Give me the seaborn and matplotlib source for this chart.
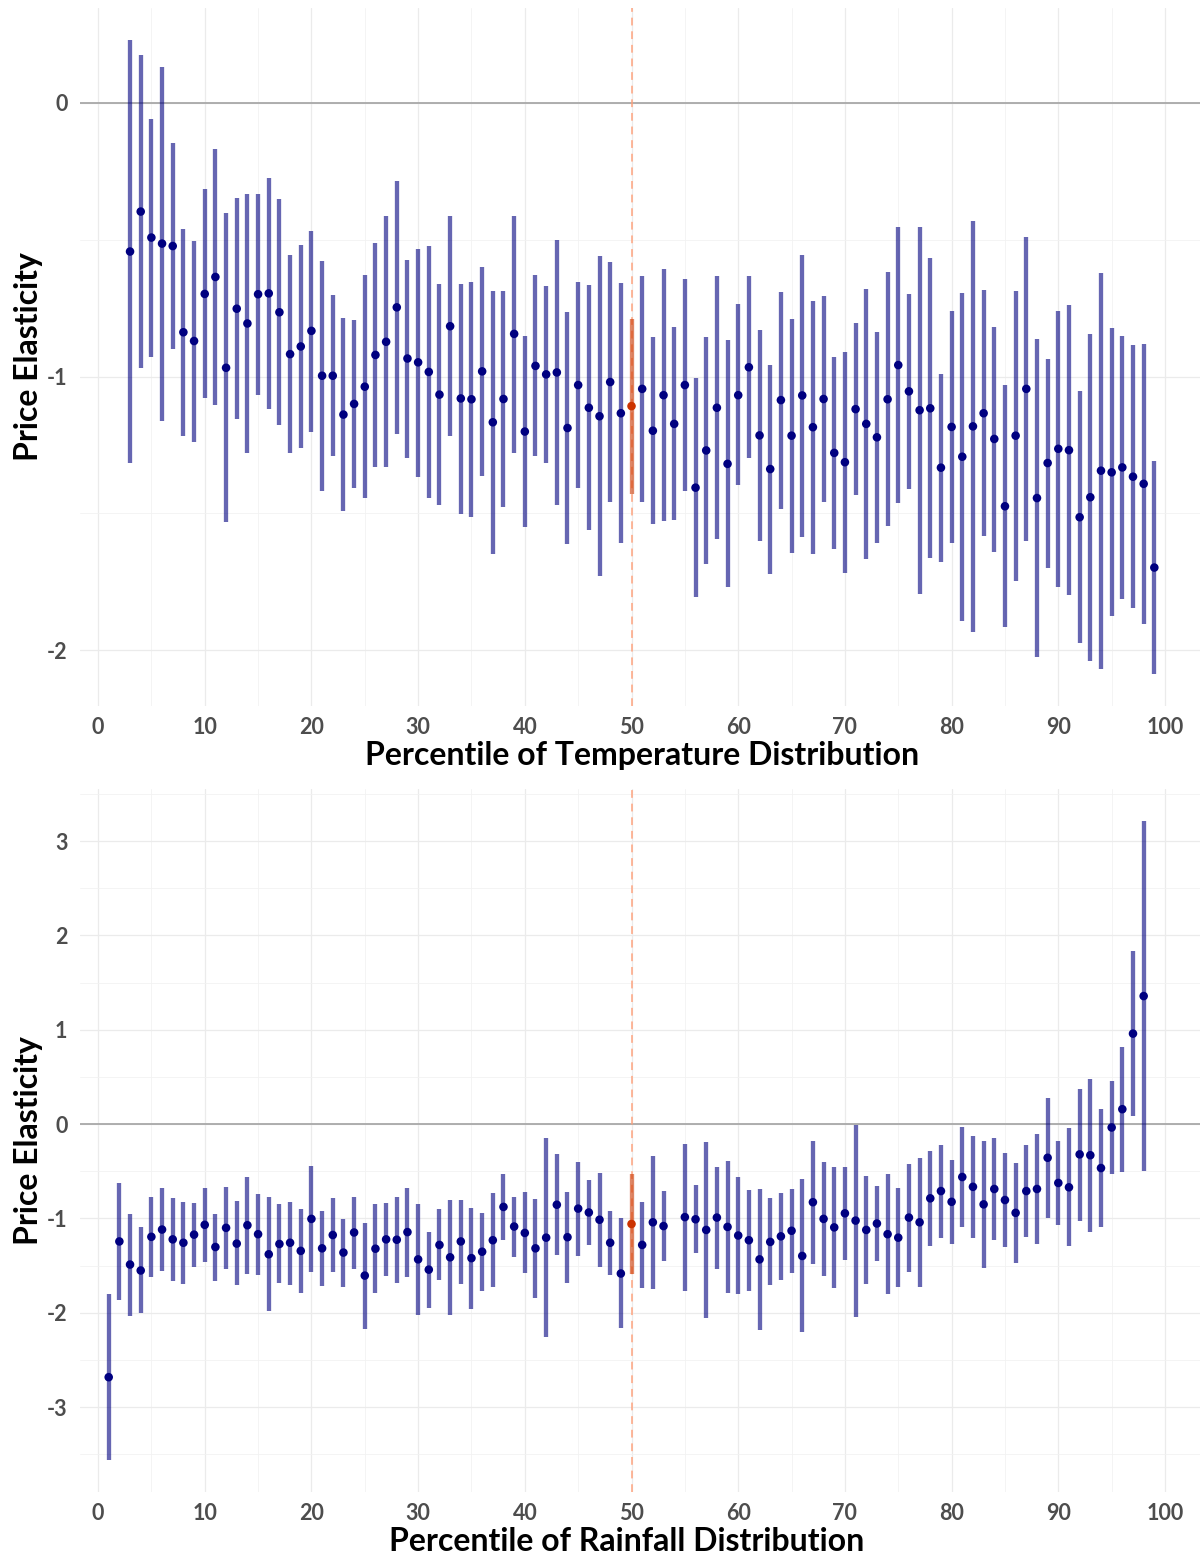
import pandas as pd
import seaborn as sns
import matplotlib.pyplot as plt
from matplotlib.ticker import MultipleLocator

# Temperature panel: percentile, point estimate, upper and lower CI
temp_pct = list(range(3, 100))
temp_est = [
    -0.543, -0.397, -0.492, -0.514, -0.523, -0.838, -0.870, -0.698, -0.636, -0.968,
    -0.752, -0.806, -0.699, -0.696, -0.765, -0.918, -0.890, -0.833, -0.997, -0.997,
    -1.139, -1.100, -1.037, -0.921, -0.873, -0.747, -0.934, -0.948, -0.983, -1.066,
    -0.816, -1.080, -1.083, -0.981, -1.167, -1.082, -0.844, -1.201, -0.961, -0.992,
    -0.985, -1.188, -1.031, -1.114, -1.145, -1.020, -1.134, -1.108, -1.045, -1.198,
    -1.068, -1.173, -1.031, -1.406, -1.270, -1.114, -1.319, -1.068, -0.966, -1.215,
    -1.338, -1.086, -1.216, -1.069, -1.185, -1.082, -1.279, -1.313, -1.119, -1.173,
    -1.222, -1.083, -0.958, -1.054, -1.123, -1.116, -1.333, -1.184, -1.293, -1.182,
    -1.134, -1.228, -1.474, -1.216, -1.045, -1.444, -1.316, -1.264, -1.269, -1.514,
    -1.441, -1.344, -1.350, -1.332, -1.366, -1.392, -1.698,
]
temp_hi = [
    0.231, 0.174, -0.057, 0.131, -0.147, -0.460, -0.503, -0.316, -0.170, -0.401,
    -0.349, -0.332, -0.332, -0.275, -0.352, -0.556, -0.519, -0.468, -0.576, -0.702,
    -0.785, -0.795, -0.630, -0.512, -0.415, -0.284, -0.573, -0.532, -0.522, -0.660,
    -0.415, -0.660, -0.656, -0.599, -0.687, -0.687, -0.412, -0.853, -0.630, -0.668,
    -0.500, -0.764, -0.656, -0.667, -0.560, -0.580, -0.659, -0.790, -0.633, -0.856,
    -0.606, -0.819, -0.644, -1.006, -0.856, -0.631, -0.867, -0.736, -0.631, -0.830,
    -0.957, -0.690, -0.790, -0.556, -0.725, -0.707, -0.929, -0.909, -0.806, -0.679,
    -0.836, -0.619, -0.455, -0.699, -0.452, -0.566, -0.992, -0.759, -0.694, -0.432,
    -0.685, -0.819, -1.031, -0.687, -0.489, -0.864, -0.934, -0.761, -0.738, -1.054,
    -0.846, -0.622, -0.824, -0.850, -0.884, -0.881, -1.307,
]
temp_lo = [
    -1.316, -0.968, -0.927, -1.162, -0.900, -1.219, -1.238, -1.079, -1.103, -1.532,
    -1.156, -1.281, -1.068, -1.117, -1.177, -1.281, -1.262, -1.201, -1.418, -1.290,
    -1.492, -1.406, -1.443, -1.329, -1.332, -1.211, -1.296, -1.366, -1.444, -1.469,
    -1.218, -1.502, -1.512, -1.363, -1.648, -1.478, -1.278, -1.549, -1.292, -1.315,
    -1.469, -1.611, -1.406, -1.560, -1.728, -1.458, -1.608, -1.429, -1.457, -1.539,
    -1.528, -1.526, -1.417, -1.807, -1.685, -1.594, -1.769, -1.398, -1.298, -1.600,
    -1.721, -1.483, -1.645, -1.588, -1.648, -1.458, -1.631, -1.719, -1.432, -1.667,
    -1.610, -1.546, -1.463, -1.410, -1.795, -1.664, -1.676, -1.610, -1.894, -1.934,
    -1.583, -1.640, -1.917, -1.747, -1.602, -2.026, -1.701, -1.769, -1.799, -1.972,
    -2.039, -2.068, -1.875, -1.813, -1.847, -1.904, -2.088,
]

# Rainfall panel (no estimate at the 54th percentile)
rain_pct = list(range(1, 54)) + list(range(55, 99))
rain_est = [
    -2.683, -1.244, -1.489, -1.552, -1.195, -1.118, -1.222, -1.258, -1.172, -1.068,
    -1.303, -1.100, -1.267, -1.072, -1.167, -1.380, -1.271, -1.258, -1.344, -1.005,
    -1.317, -1.176, -1.362, -1.149, -1.606, -1.321, -1.222, -1.226, -1.145, -1.434,
    -1.543, -1.281, -1.412, -1.244, -1.421, -1.353, -1.231, -0.878, -1.086, -1.154,
    -1.317, -1.204, -0.855, -1.199, -0.896, -0.937, -1.014, -1.258, -1.584, -1.059,
    -1.281, -1.041, -1.081, -0.986, -1.009, -1.122, -0.991, -1.090, -1.181, -1.231,
    -1.434, -1.249, -1.190, -1.131, -1.398, -0.828, -1.005, -1.095, -0.946, -1.023,
    -1.122, -1.054, -1.167, -1.204, -0.991, -1.041, -0.787, -0.710, -0.824, -0.561,
    -0.665, -0.851, -0.688, -0.805, -0.941, -0.710, -0.688, -0.357, -0.624, -0.670,
    -0.321, -0.330, -0.466, -0.036, 0.158, 0.959, 1.357,
]
rain_hi = [
    -1.805, -0.620, -0.950, -1.090, -0.778, -0.679, -0.787, -0.828, -0.837, -0.679,
    -0.955, -0.665, -0.814, -0.561, -0.742, -0.778, -0.851, -0.828, -0.905, -0.448,
    -0.923, -0.783, -1.005, -0.769, -1.045, -0.851, -0.837, -0.769, -0.674, -0.842,
    -1.145, -0.905, -0.805, -0.801, -0.887, -0.946, -0.729, -0.525, -0.769, -0.724,
    -0.792, -0.145, -0.321, -0.715, -0.398, -0.588, -0.516, -0.919, -1.000, -0.525,
    -0.828, -0.335, -0.706, -0.208, -0.647, -0.190, -0.452, -0.394, -0.566, -0.697,
    -0.683, -0.787, -0.733, -0.688, -0.584, -0.176, -0.403, -0.457, -0.457, -0.009,
    -0.552, -0.652, -0.529, -0.679, -0.421, -0.362, -0.285, -0.217, -0.380, -0.032,
    -0.127, -0.176, -0.149, -0.308, -0.412, -0.226, -0.100, 0.281, -0.181, -0.041,
    0.376, 0.475, 0.158, 0.452, 0.819, 1.837, 3.213,
]
rain_lo = [
    -3.561, -1.869, -2.036, -2.005, -1.620, -1.557, -1.665, -1.692, -1.511, -1.457,
    -1.661, -1.538, -1.710, -1.588, -1.602, -1.986, -1.688, -1.701, -1.792, -1.570,
    -1.719, -1.570, -1.729, -1.534, -2.172, -1.792, -1.606, -1.688, -1.620, -2.027,
    -1.946, -1.656, -2.027, -1.692, -1.959, -1.769, -1.729, -1.231, -1.407, -1.575,
    -1.842, -2.258, -1.385, -1.683, -1.394, -1.285, -1.516, -1.597, -2.163, -1.593,
    -1.733, -1.747, -1.448, -1.765, -1.371, -2.059, -1.534, -1.792, -1.801, -1.765,
    -2.181, -1.710, -1.652, -1.575, -2.199, -1.480, -1.611, -1.733, -1.439, -2.041,
    -1.692, -1.452, -1.805, -1.729, -1.566, -1.724, -1.294, -1.204, -1.267, -1.095,
    -1.208, -1.529, -1.231, -1.308, -1.475, -1.199, -1.276, -0.995, -1.072, -1.294,
    -1.027, -1.140, -1.086, -0.525, -0.507, 0.081, -0.493,
]

MEDIAN = 50
FONT = ["Lato", "DejaVu Sans"]


def make_df(pct, est, lo, hi):
    df = pd.DataFrame({"pct": pct, "est": est, "lo": lo, "hi": hi})
    df["median"] = df["pct"] == MEDIAN
    return df


def draw_panel(ax, df, xlabel, ylim, major, minor, xlabel_x=0.5):
    ax.set_facecolor("white")
    for s in ax.spines.values():
        s.set_visible(False)

    ax.xaxis.set_major_locator(MultipleLocator(10))
    ax.xaxis.set_minor_locator(MultipleLocator(5))
    ax.yaxis.set_major_locator(MultipleLocator(major))
    ax.yaxis.set_minor_locator(MultipleLocator(minor))
    ax.grid(which="major", color="#ebebeb", linewidth=0.9)
    ax.grid(which="minor", color="#f2f2f2", linewidth=0.6)
    ax.set_axisbelow(True)

    ax.axhline(0, color="#a8a8a8", linewidth=1.3, zorder=1)
    ax.axvline(MEDIAN, color="#ffa07a", alpha=0.75, linewidth=1.4,
               linestyle=(0, (4, 3)), zorder=1)

    rest = df[~df["median"]]
    med = df[df["median"]]
    ax.vlines(rest["pct"], rest["lo"], rest["hi"], colors="navy",
              alpha=0.6, linewidth=3.1, zorder=2)
    ax.vlines(med["pct"], med["lo"], med["hi"], colors="#cd3700",
              alpha=0.6, linewidth=3.1, zorder=2)
    sns.scatterplot(data=df, x="pct", y="est", hue="median",
                    palette={False: "navy", True: "#cc3300"},
                    s=38, linewidth=0, legend=False, ax=ax, zorder=3)

    ax.set_xlim(-1.69, 103.28)
    ax.set_ylim(*ylim)
    ax.tick_params(which="both", length=0, labelsize=15.5, labelcolor="#4d4d4d")
    ax.tick_params(axis="x", pad=8)
    ax.tick_params(axis="y", pad=9)
    for lab in ax.get_xticklabels() + ax.get_yticklabels():
        lab.set_fontweight("bold")
        lab.set_family(FONT)
    ax.set_xlabel(xlabel, fontsize=23, fontweight="bold", family=FONT,
                  color="black", labelpad=2)
    ax.xaxis.label.set_x(xlabel_x)
    ax.set_ylabel("Price Elasticity", fontsize=23, fontweight="bold",
                  family=FONT, color="black", labelpad=3)


def main():
    sns.set_theme(style="white")
    plt.rcParams["font.family"] = FONT
    plt.rcParams["axes.unicode_minus"] = False

    temp = make_df(temp_pct, temp_est, temp_lo, temp_hi)
    rain = make_df(rain_pct, rain_est, rain_lo, rain_hi)

    W, H = 1202, 1557
    fig = plt.figure(figsize=(W / 100, H / 100), dpi=100)
    fig.patch.set_facecolor("white")

    left, right = 80, 1200
    ax1 = fig.add_axes([left / W, 1 - 706 / H, (right - left) / W, (706 - 8) / H])
    ax2 = fig.add_axes([left / W, 1 - 1492 / H, (right - left) / W, (1492 - 789) / H])

    draw_panel(ax1, temp, "Percentile of Temperature Distribution",
               (-2.204, 0.347), 1, 0.5, xlabel_x=0.502)
    draw_panel(ax2, rain, "Percentile of Rainfall Distribution",
               (-3.90, 3.552), 1, 0.5, xlabel_x=0.488)

    fig.savefig("out.png", dpi=100, facecolor="white")
    plt.close(fig)


if __name__ == "__main__":
    main()
